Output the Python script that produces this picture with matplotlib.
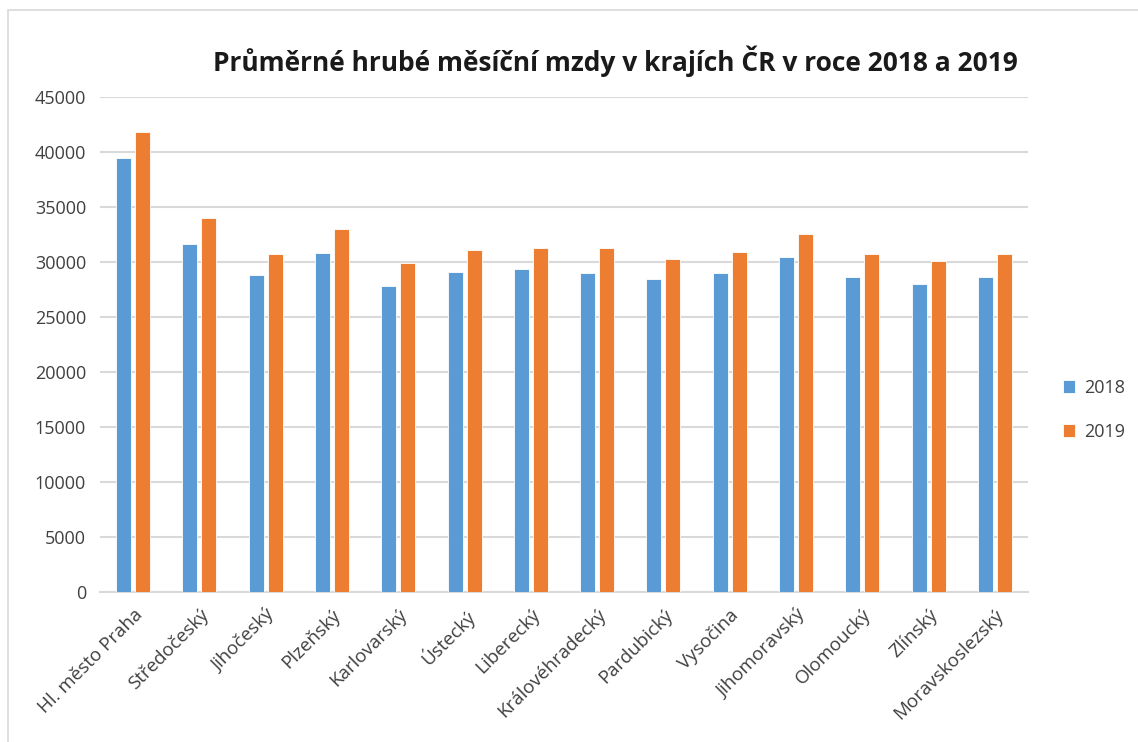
import matplotlib.pyplot as plt
import numpy as np
from matplotlib.patches import Rectangle

plt.rcParams['font.family'] = ['Open Sans', 'DejaVu Sans']

kraje = ["Hl. město Praha", "Středočeský", "Jihočeský", "Plzeňský", "Karlovarský",
         "Ústecký", "Liberecký", "Královéhradecký", "Pardubický", "Vysočina",
         "Jihomoravský", "Olomoucký", "Zlínský", "Moravskoslezský"]
mzdy_2018 = [39420, 31590, 28780, 30800, 27860, 29080, 29390,
             28990, 28470, 28990, 30490, 28600, 27980, 28600]
mzdy_2019 = [41800, 34010, 30700, 33000, 29880, 31070, 31280,
             31280, 30280, 30890, 32500, 30700, 30090, 30700]
roky = ["2018", "2019"]
yticks = list(range(0, 45001, 5000))

fig = plt.figure(figsize=(11.38, 7.42), dpi=100)
ax = fig.add_axes([0.0879, 0.2022, 0.8154, 0.6671])

# rámeček kolem grafu
fig.patches.append(Rectangle((0.007, -0.01), 1.0, 0.997, transform=fig.transFigure,
                             fill=False, edgecolor="#d9d9d9", linewidth=1.2))

x = np.arange(len(kraje))
w = 0.226
ax.bar(x - 0.143, mzdy_2018, w, color="#5B9BD5", edgecolor="white", linewidth=0.6,
       label=roky[0], zorder=3)
ax.bar(x + 0.143, mzdy_2019, w, color="#ED7D31", edgecolor="white", linewidth=0.6,
       label=roky[1], zorder=3)

ax.set_xlim(-0.5, len(kraje) - 0.5)
ax.set_ylim(0, 45000)
ax.set_yticks(yticks)
ax.set_yticklabels([str(v) for v in yticks], fontsize=13, color="#404040")
ax.yaxis.grid(True, color="#d9d9d9", linewidth=1.5, zorder=0)
ax.set_xticks(x)
ax.set_xticklabels(kraje, rotation=45, ha="right", rotation_mode="anchor",
                   fontsize=13.5, color="#404040")
ax.tick_params(length=0, pad=10)
ax.tick_params(axis="x", pad=10)
for s in ["top", "right", "left"]:
    ax.spines[s].set_visible(False)
ax.spines["bottom"].set_color("#d9d9d9")
ax.spines["bottom"].set_linewidth(1.5)

fig.text(0.541, 0.917, "Průměrné hrubé měsíční mzdy v krajích ČR v roce 2018 a 2019",
         ha="center", va="center", fontsize=19, fontweight="bold", color="#1a1a1a")

leg = ax.legend(loc="center left", bbox_to_anchor=(1.02, 0.368), frameon=False,
                fontsize=13, handlelength=0.7, handleheight=0.7, labelspacing=1.45,
                handletextpad=0.5)
for t in leg.get_texts():
    t.set_color("#404040")

fig.savefig("out.png", dpi=100)
